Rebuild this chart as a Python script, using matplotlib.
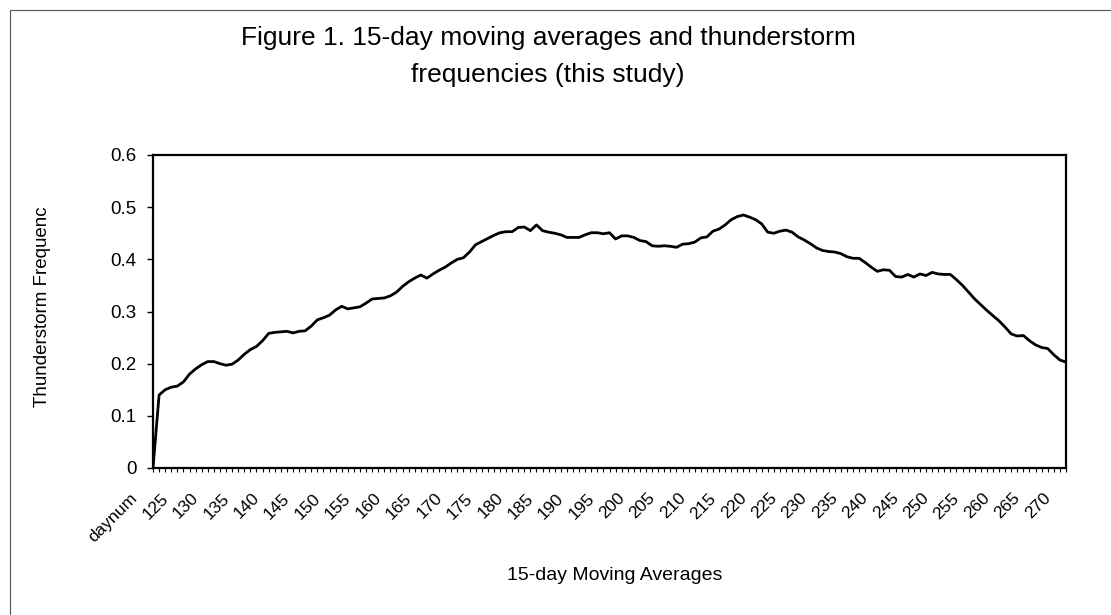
import matplotlib.pyplot as plt
import numpy as np
from matplotlib.patches import Rectangle
from matplotlib.transforms import ScaledTranslation

plt.rcParams['font.family'] = ['Liberation Sans', 'DejaVu Sans']

# category 0 is the header cell "daynum", then days 121..270
days = list(range(121, 271))
categories = ['daynum'] + [str(d) for d in days]

freq = [
    0.000,
    0.140, 0.150, 0.155, 0.157, 0.165, 0.180, 0.190, 0.198, 0.204, 0.204,
    0.200, 0.197, 0.199, 0.207, 0.218, 0.227, 0.233, 0.244, 0.258, 0.260,
    0.261, 0.262, 0.259, 0.262, 0.263, 0.272, 0.284, 0.288, 0.293, 0.303,
    0.310, 0.305, 0.307, 0.309, 0.316, 0.324, 0.325, 0.326, 0.330, 0.337,
    0.348, 0.357, 0.364, 0.370, 0.364, 0.372, 0.379, 0.385, 0.393, 0.400,
    0.403, 0.414, 0.428, 0.434, 0.440, 0.446, 0.451, 0.453, 0.453, 0.461,
    0.462, 0.455, 0.466, 0.455, 0.452, 0.450, 0.447, 0.442, 0.442, 0.442,
    0.447, 0.451, 0.451, 0.449, 0.451, 0.439, 0.445, 0.445, 0.442, 0.436,
    0.434, 0.426, 0.425, 0.426, 0.425, 0.423, 0.429, 0.430, 0.433, 0.441,
    0.443, 0.454, 0.458, 0.466, 0.476, 0.482, 0.485, 0.481, 0.476, 0.468,
    0.452, 0.450, 0.454, 0.456, 0.452, 0.443, 0.437, 0.430, 0.422, 0.417,
    0.415, 0.414, 0.411, 0.405, 0.402, 0.402, 0.394, 0.385, 0.377, 0.380,
    0.379, 0.367, 0.366, 0.371, 0.366, 0.372, 0.369, 0.375, 0.372, 0.371,
    0.371, 0.361, 0.350, 0.337, 0.324, 0.313, 0.302, 0.292, 0.282, 0.270,
    0.257, 0.253, 0.254, 0.244, 0.236, 0.231, 0.229, 0.217, 0.207, 0.203,
]

y_ticks = [0, 0.1, 0.2, 0.3, 0.4, 0.5, 0.6]
y_labels = ['0', '0.1', '0.2', '0.3', '0.4', '0.5', '0.6']

fig = plt.figure(figsize=(11.11, 6.15), dpi=100)
ax = fig.add_axes([153 / 1111, 147 / 615, 913 / 1111, 313 / 615])

x = np.arange(len(categories))
ax.plot(x, freq, color='black', lw=2.0, solid_joinstyle='round')

ax.set_xlim(0, len(categories) - 1)
ax.set_ylim(0, 0.6)

ax.set_yticks(y_ticks)
ax.set_yticklabels(y_labels, fontsize=13.5)
ax.set_xticks(x[::5])
ax.set_xticklabels(categories[::5], rotation=45, ha='right', va='top',
                   rotation_mode='anchor', fontsize=12.5)
ax.set_xticks(x, minor=True)
ax.tick_params(axis='x', which='major', length=3, width=0.8, pad=6)
ax.tick_params(axis='x', which='minor', length=3, width=0.8)
ax.tick_params(axis='y', length=4, width=1, pad=8)

# excel puts the slanted labels a bit left of their category
shift = ScaledTranslation(-23 / 100, -10 / 100, fig.dpi_scale_trans)
for lab in ax.get_xticklabels():
    lab.set_transform(lab.get_transform() + shift)

for s in ax.spines.values():
    s.set_linewidth(1.6)
    s.set_color('black')

ax.text(-0.1205, 0.514, 'Thunderstorm Frequenc', transform=ax.transAxes,
        rotation=90, ha='center', va='center', fontsize=13.5)
ax.text(0.506, -0.342, '15-day Moving Averages', transform=ax.transAxes,
        ha='center', va='center', fontsize=14)

fig.text(548 / 1111, 1 - 38 / 615, 'Figure 1. 15-day moving averages and thunderstorm',
         ha='center', va='center', fontsize=19)
fig.text(548 / 1111, 1 - 75 / 615, 'frequencies (this study)',
         ha='center', va='center', fontsize=19)

# thin chart-area frame
fig.patches.append(Rectangle((10 / 1111, -0.05), 1.1, 1 - 10 / 615 + 0.05,
                             transform=fig.transFigure, fill=False,
                             edgecolor='#555555', lw=0.8))

fig.savefig('out.png', dpi=100)
